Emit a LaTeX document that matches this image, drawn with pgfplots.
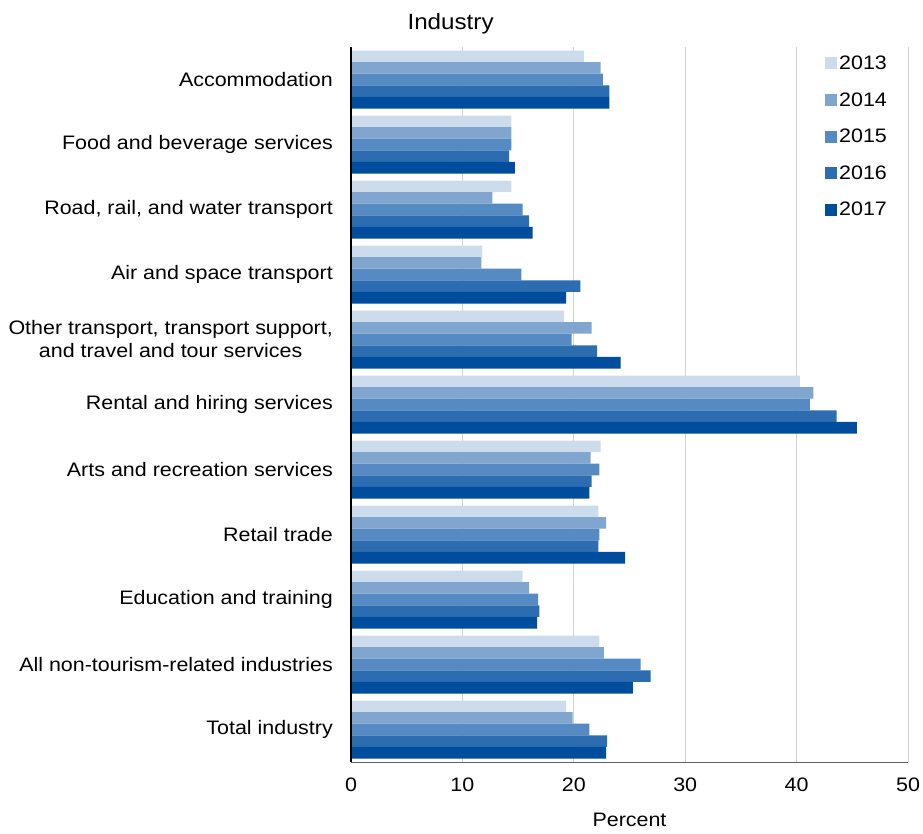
\documentclass[border=0pt]{standalone}
\usepackage{fontspec}
\setmainfont[FakeStretch=1.1]{Liberation Sans}
\usepackage{pgfplots}
\usepackage{pgfplotstable}
\pgfplotsset{compat=1.18}
\definecolor{c13}{RGB}{205,220,236}
\definecolor{c14}{RGB}{128,166,208}
\definecolor{c15}{RGB}{85,139,194}
\definecolor{c16}{RGB}{44,108,176}
\definecolor{c17}{RGB}{0,77,157}
\pgfplotstableread{
idx y2013 y2014 y2015 y2016 y2017
0  20.9 22.4 22.6 23.2 23.2
1  14.4 14.4 14.4 14.2 14.7
2  14.4 12.7 15.4 16.0 16.3
3  11.8 11.7 15.3 20.6 19.3
4  19.1 21.6 19.8 22.1 24.2
5  40.3 41.5 41.2 43.6 45.4
6  22.4 21.5 22.3 21.6 21.4
7  22.2 22.9 22.3 22.2 24.6
8  15.4 16.0 16.8 16.9 16.7
9  22.3 22.7 26.0 26.9 25.3
10 19.3 19.9 21.4 23.0 22.9
}\data
\begin{document}
\begin{tikzpicture}[x=1pt,y=1pt]
\useasboundingbox (-351,-71) rectangle (572,762);
\begin{axis}[
  at={(0,0)}, anchor=south west,
  scale only axis, width=557pt, height=715pt,
  xbar=0pt, bar width=11.6pt,
  xmin=0, xmax=50, ymin=-0.5, ymax=10.5, y dir=reverse,
  xtick={0,10,...,50},
  ytick={0,...,10},
  yticklabels={Accommodation,Food and beverage services,{Road, rail, and water transport},Air and space transport,{Other transport, transport support,\\and travel and tour services},Rental and hiring services,Arts and recreation services,Retail trade,Education and training,All non-tourism-related industries,Total industry},
  major tick length=0pt,
  every tick label/.append style={font=\fontsize{19.5}{23}\selectfont},
  /pgf/number format/assume math mode=true,
  yticklabel style={align=center, inner sep=0pt, xshift=-18pt},
  xticklabel style={inner sep=0pt, yshift=-16pt},
  axis x line=bottom, axis y line=left,
  x axis line style={-, draw=gray!75!black, line width=1pt},
  y axis line style={-, draw=black, line width=1.8pt},
  xmajorgrids, grid style={gray!35, line width=0.8pt},
  xlabel={Percent},
  xlabel style={at={(rel axis cs:0.5,0)}, anchor=base, yshift=-64pt, font=\fontsize{19.5}{23}\selectfont},
  clip=false,
  legend cell align=left,
  legend style={at={(rel axis cs:0.8456,0.995)}, anchor=north west, draw=none, fill=white,
    font=\fontsize{19.5}{23}\selectfont, row sep=17.5pt, inner sep=3pt,
    nodes={inner xsep=2pt}},
]
\addplot[draw=none, fill=c13, bar shift=23.2pt, legend image code/.code={\fill[c13] (0pt,-6pt) rectangle (12pt,6pt);}] table[x=y2013, y=idx] {\data};
\addplot[draw=none, fill=c14, bar shift=11.6pt, legend image code/.code={\fill[c14] (0pt,-6pt) rectangle (12pt,6pt);}] table[x=y2014, y=idx] {\data};
\addplot[draw=none, fill=c15, bar shift=0pt, legend image code/.code={\fill[c15] (0pt,-6pt) rectangle (12pt,6pt);}] table[x=y2015, y=idx] {\data};
\addplot[draw=none, fill=c16, bar shift=-11.6pt, legend image code/.code={\fill[c16] (0pt,-6pt) rectangle (12pt,6pt);}] table[x=y2016, y=idx] {\data};
\addplot[draw=none, fill=c17, bar shift=-23.2pt, legend image code/.code={\fill[c17] (0pt,-6pt) rectangle (12pt,6pt);}] table[x=y2017, y=idx] {\data};
\legend{2013,2014,2015,2016,2017}
\draw[black, line width=1.8pt] (rel axis cs:0,0) -- (rel axis cs:0,1);
\node[anchor=base west, font=\fontsize{22}{26}\selectfont] at (rel axis cs:0,1) [xshift=53pt, yshift=18pt] {Industry};
\end{axis}
\end{tikzpicture}
\end{document}
